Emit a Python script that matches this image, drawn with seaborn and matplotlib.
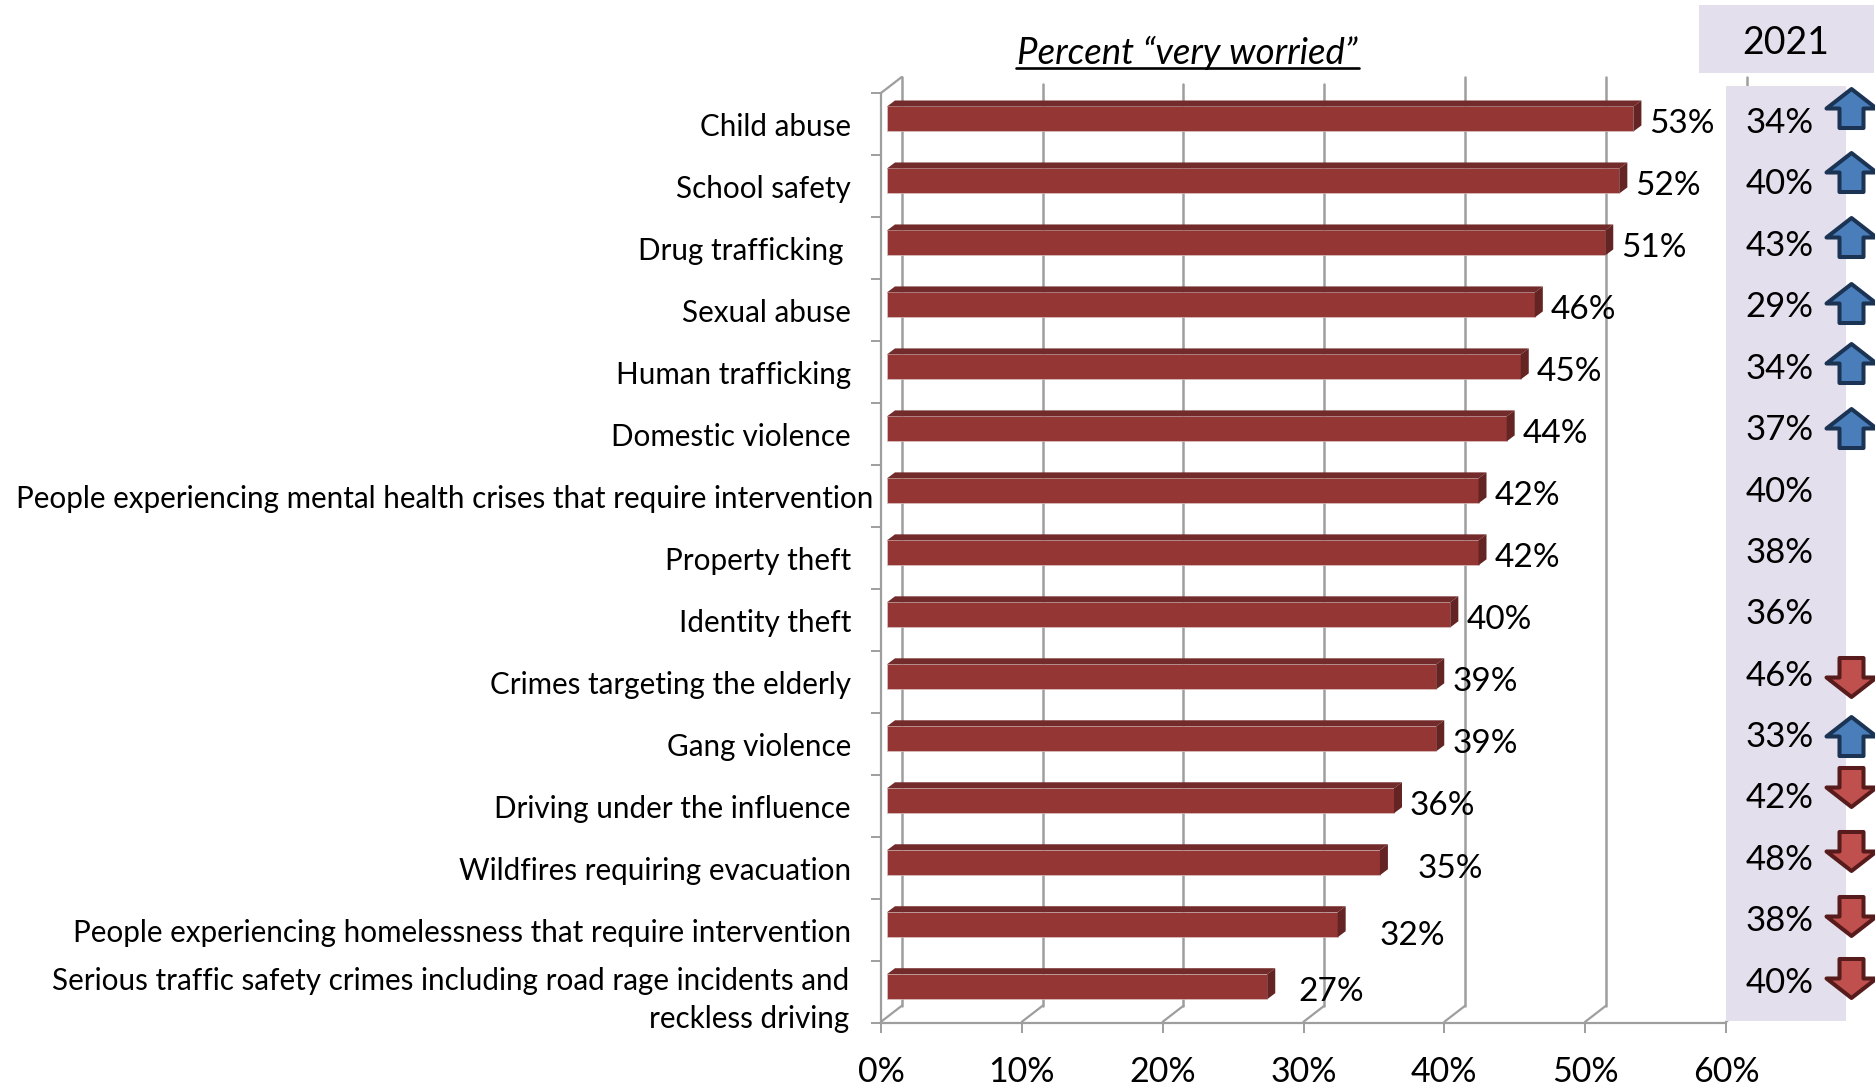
import matplotlib
matplotlib.use("Agg")
import matplotlib.pyplot as plt
import seaborn as sns
import pandas as pd
from matplotlib.patches import Polygon, Rectangle
from matplotlib.path import Path
from matplotlib.transforms import ScaledTranslation

categories = ["Child abuse", "School safety", "Drug trafficking", "Sexual abuse", "Human trafficking",
              "Domestic violence", "People experiencing mental health crises that require intervention",
              "Property theft", "Identity theft", "Crimes targeting the elderly", "Gang violence",
              "Driving under the influence", "Wildfires requiring evacuation",
              "People experiencing homelessness that require intervention",
              "Serious traffic safety crimes including road rage incidents and\nreckless driving"]
very_worried = [53, 52, 51, 46, 45, 44, 42, 42, 40, 39, 39, 36, 35, 32, 27]
prior_2021 = [34, 40, 43, 29, 34, 37, 40, 38, 36, 46, 33, 42, 48, 38, 40]
trend = ["up", "up", "up", "up", "up", "up", "", "", "", "down", "up", "down", "down", "down", "down"]
x_ticks = [0, 10, 20, 30, 40, 50, 60]

# layout-only tweaks, pixels
label_shift = [0, 0, -7, 0, 0, 0, 22, 0, 0, 0, 0, 0, 0, 0, -2]
value_gap = [8, 8, 8, 8, 8, 8, 8, 8, 8, 8, 8, 8, 30, 34, 23]
value_rise = [5.5, 5.5, 5.5, 5.5, 5.5, 5.5, 5.5, 5.5, 5.5, 5.5, 5.5, 5.5, 6.5, 11.5, 5.5]
arrow_rise = [-12.5, -10, -6.5, -2, -3.5, 0, 0, 0, 0, 4, 1, -9.5, -7, -3.5, -2.5]

W, H = 1875, 1087
GRAY = "#9E9E9E"
FONT = "Lato"
sns.set_theme(style="white")
plt.rcParams["font.family"] = [FONT, "DejaVu Sans"]
fig = plt.figure(figsize=(W / 100, H / 100), dpi=100)

L, R, T, B = 881, 1726, 93, 1022.7
ax = fig.add_axes([L / W, 1 - B / H, (R - L) / W, (B - T) / H])
df = pd.DataFrame({"cat": categories, "val": very_worried})
x_unit, y_unit = (R - L) / 60, 62.04
start = 6 / x_unit
sns.barplot(data=df, x="val", y="cat", orient="h", color="#943634", saturation=1, width=25 / y_unit,
            left=start, ax=ax, zorder=3, edgecolor="#D9C4C4", linewidth=0.5)
ylim_low, ylim_high = (T - 119) / y_unit, (B - 119) / y_unit
ax.set_xlim(0, 60)
ax.set_ylim(ylim_high, ylim_low)
ax.set_xlabel("")
ax.set_ylabel("")

for s in ["top", "right"]:
    ax.spines[s].set_visible(False)
for s in ["left", "bottom"]:
    ax.spines[s].set_color(GRAY)
    ax.spines[s].set_linewidth(1.6)

ax.set_xticks(x_ticks)
ax.set_xticklabels([f"{v}%" for v in x_ticks], fontsize=24.5, color="black")
ax.tick_params(axis="x", length=7, width=1.4, color=GRAY, pad=17, bottom=True)
ax.set_yticks(range(len(categories)))
ax.set_yticklabels(categories, fontsize=21.3, color="black")
ax.tick_params(axis="y", which="major", length=0, pad=21.6)
ax.set_yticks([ylim_low + i for i in range(16)], minor=True)
ax.tick_params(axis="y", which="minor", length=7, width=1.4, color=GRAY, left=True)
for lab, sh in zip(ax.get_yticklabels(), label_shift):
    lab.set_multialignment("right")
    lab.set_linespacing(1.46)
    lab.set_transform(lab.get_transform() + ScaledTranslation(sh / 100, -5.5 / 100, fig.dpi_scale_trans))

# 3-D walls
dx, dy = 20.7 / x_unit, 16 / y_unit
for v in x_ticks:
    ax.plot([v, v + dx], [ylim_high, ylim_high - dy], color=GRAY, lw=1.6, clip_on=False, zorder=1)
    top = ylim_low - dy if v in (0, 40, 50, 60) else ylim_low - 9 / y_unit
    ax.plot([v + dx, v + dx], [ylim_high - dy, top], color=GRAY, lw=1.8, clip_on=False, zorder=1)
ax.plot([0, dx], [ylim_low, ylim_low - dy], color=GRAY, lw=1.6, clip_on=False, zorder=1)

# bar top and end faces, value labels
bx, by = 8 / x_unit, 6 / y_unit
half = 12.5 / y_unit
for i, v in enumerate(very_worried):
    x1 = start + v
    ax.add_patch(Polygon([(start, i - half), (start + bx, i - half - by), (x1 + bx, i - half - by), (x1, i - half)],
                         fc="#722B2A", ec="none", zorder=4))
    ax.add_patch(Polygon([(x1, i - half), (x1 + bx, i - half - by), (x1 + bx, i + half - by), (x1, i + half)],
                         fc="#632423", ec="none", zorder=4))
    ax.annotate(f"{v}%", (x1 + bx, i), xytext=(value_gap[i], -value_rise[i]), textcoords="offset pixels",
                va="center", ha="left", fontsize=24, color="black", zorder=5)

# title
ax.text((1187.5 - L) / x_unit, ylim_low - 40.5 / y_unit, "Percent “very worried”", fontsize=26.4, style="italic",
        ha="center", va="center", color="black", zorder=6)
ax.plot([(1016 - L) / x_unit, (1359 - L) / x_unit], [ylim_low - 25 / y_unit] * 2, color="black", lw=1.9,
        clip_on=False, zorder=6)

# 2021 panel
PL, PR, PT, PB = 1726, 1846, 86, 1020.7
ax2 = fig.add_axes([PL / W, 1 - PB / H, (PR - PL) / W, (PB - PT) / H], facecolor="#E4DFEC")
for s in ax2.spines.values():
    s.set_visible(False)
ax2.set_xticks([])
ax2.set_yticks([])
ax2.grid(False)
ax2.set_xlim(0, 1)
step = 61.4
ax2.set_ylim((PB - 120.8) / step, (PT - 120.8) / step)
for i, v in enumerate(prior_2021):
    ax2.text(0.165, i + 2.3 / step, f"{v}%", fontsize=25, ha="left", va="center", color="black")

up_path = Path([(-0.48, -0.78), (-0.48, 0.0), (-1, 0.0), (0, 0.78), (1, 0.0), (0.48, 0.0), (0.48, -0.78), (-0.48, -0.78)], closed=True)
down_path = Path([(x, -y) for x, y in up_path.vertices], closed=True)
size = (50 * 0.72) ** 2
for direction, path, fc, ec in [("up", up_path, "#4A7EBB", "#1B3454"), ("down", down_path, "#C0504D", "#571B1B")]:
    ys = [i + arrow_rise[i] / step for i, t in enumerate(trend) if t == direction]
    ax2.scatter([1.039] * len(ys), ys, marker=path, s=size, facecolor=fc, edgecolor=ec, linewidth=2.9, clip_on=False, zorder=5)

fig.add_artist(Rectangle((1699 / W, 1 - 73 / H), 175 / W, 68 / H, transform=fig.transFigure, fc="#E4DFEC", ec="none"))
fig.text(1786 / W, 1 - 42.5 / H, "2021", fontsize=27, ha="center", va="center", color="black")

fig.savefig("out.png", dpi=100)
